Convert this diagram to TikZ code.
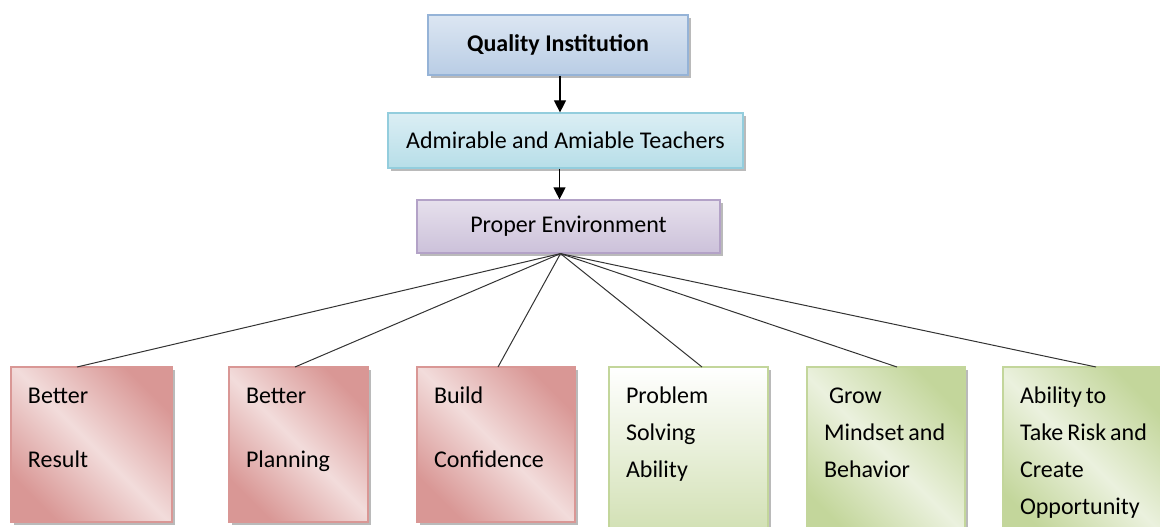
\documentclass[tikz,border=0pt]{standalone}
\usepackage{fontspec}
\setmainfont{Carlito}
\usepackage{tikz}
\usetikzlibrary{positioning,shadows,arrows.meta}

\definecolor{blueTop}{HTML}{DCE6F2}
\definecolor{blueBot}{HTML}{B9CDE5}
\definecolor{blueLine}{HTML}{95B3D7}
\definecolor{cyanTop}{HTML}{DBEEF4}
\definecolor{cyanBot}{HTML}{B7DEE8}
\definecolor{cyanLine}{HTML}{93CDDD}
\definecolor{lilacTop}{HTML}{E6E0EC}
\definecolor{lilacBot}{HTML}{CCC1DA}
\definecolor{lilacLine}{HTML}{B3A2C7}
\definecolor{roseDark}{HTML}{D99795}
\definecolor{roseLight}{HTML}{F2DCDB}
\definecolor{leafDark}{HTML}{C3D69B}
\definecolor{leafLight}{HTML}{EBF1DE}

% text of a bottom card: height, width, lines
\newcommand{\cardlines}[3]{\parbox[c][#1][t]{#2}{\leftskip=17pt\relax\spaceskip=4pt\relax\rule{0pt}{36pt}#3}}

\begin{document}
\begin{tikzpicture}[x=1pt, y=-1pt,
    topbox/.style={draw, line width=1.2pt, inner sep=0pt, font=\fontsize{24}{28}\selectfont,
      drop shadow={shadow xshift=3pt, shadow yshift=-3pt, fill=black!45, opacity=.6}},
    card/.style={draw, line width=1.2pt, inner sep=0pt, outer sep=0pt, font=\fontsize{24}{37}\selectfont,
      drop shadow={shadow xshift=3pt, shadow yshift=-3pt, fill=black!45, opacity=.6}},
    redcard/.style={card, draw=roseDark, top color=roseDark, bottom color=roseDark,
      middle color=roseLight, shading angle=-45},
    greencard/.style={card, draw=leafDark, top color=leafDark, bottom color=leafDark,
      middle color=leafLight, shading angle=-45},
    link/.style={draw=black!80, line width=1pt},
    flow/.style={draw=black, line width=1.2pt, -{Triangle[width=12pt,length=12pt]}}]
    \useasboundingbox (0,0) rectangle (1160,527);

    % top chain
    \node[topbox, draw=blueLine, top color=blueTop, bottom color=blueBot,
      minimum width=260pt, minimum height=60pt] (quality) at (558,45) {\bfseries Quality Institution};
    \node[topbox, draw=cyanLine, top color=cyanTop, bottom color=cyanBot,
      minimum width=355pt, minimum height=55pt, below of=quality, node distance=95.5pt, xshift=7.5pt] (teachers) {Admirable and Amiable Teachers};
    \node[topbox, draw=lilacLine, top color=lilacTop, bottom color=lilacBot,
      minimum width=303pt, minimum height=53pt, below of=teachers, node distance=86pt, xshift=3pt] (env) {Proper Environment};

    \draw[flow] ([xshift=2pt]quality.south) -- ([xshift=2pt]quality.south |- teachers.north);
    \draw[flow] ([xshift=-6pt]teachers.south) -- ([xshift=-6pt]teachers.south |- env.north);

    % bottom cards
    \node[redcard, anchor=north west] (result) at (11,367) {\cardlines{155pt}{161pt}{Better\\[27pt]Result}};
    \node[redcard, right=57pt of result.north east, anchor=north west] (planning) {\cardlines{155pt}{139pt}{Better\\[27pt]Planning}};
    \node[redcard, right=49pt of planning.north east, anchor=north west] (confidence) {\cardlines{155pt}{158pt}{Build\\[27pt]Confidence}};
    \node[card, draw=leafDark, top color=white, bottom color=leafDark!80,
      right=34pt of confidence.north east, anchor=north west] (solving) {\cardlines{175pt}{159pt}{Problem\\Solving\\Ability}};
    \node[greencard, right=39pt of solving.north east, anchor=north west] (mindset) {\cardlines{175pt}{158pt}{\hspace*{5pt}Grow\\Mindset and\\Behavior}};
    \node[greencard, right=38pt of mindset.north east, anchor=north west] (risk) {\cardlines{175pt}{160pt}{Ability to\\Take Risk and\\Create\\Opportunity}};

    \draw[link] ([xshift=-8pt]env.south) -- ([xshift=-14.5pt]result.north);
    \draw[link] ([xshift=-8pt]env.south) -- ([xshift=-3.5pt]planning.north);
    \draw[link] ([xshift=-8pt]env.south) -- ([xshift=2pt]confidence.north);
    \draw[link] ([xshift=-8pt]env.south) -- ([xshift=13.5pt]solving.north);
    \draw[link] ([xshift=-8pt]env.south) -- ([xshift=11pt]mindset.north);
    \draw[link] ([xshift=-8pt]env.south) -- ([xshift=13pt]risk.north);
\end{tikzpicture}
\end{document}
